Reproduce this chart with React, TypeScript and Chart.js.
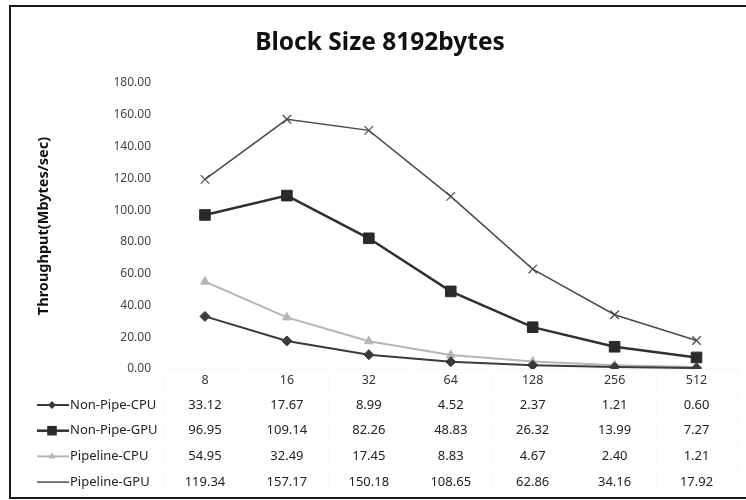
import React, { useEffect, useRef } from 'react';
import { Chart, registerables } from 'chart.js';

Chart.register(...registerables);

const categories = ['8', '16', '32', '64', '128', '256', '512'];
const seriesNames = ['Non-Pipe-CPU', 'Non-Pipe-GPU', 'Pipeline-CPU', 'Pipeline-GPU'];
const nonPipeCPU = [33.12, 17.67, 8.99, 4.52, 2.37, 1.21, 0.6];
const nonPipeGPU = [96.95, 109.14, 82.26, 48.83, 26.32, 13.99, 7.27];
const pipelineCPU = [54.95, 32.49, 17.45, 8.83, 4.67, 2.4, 1.21];
const pipelineGPU = [119.34, 157.17, 150.18, 108.65, 62.86, 34.16, 17.92];
const yMin = 0;
const yMax = 180;
const yStep = 20;
const chartTitle = 'Block Size 8192bytes';
const yTitle = 'Throughput(Mbytes/sec)';

const FONT = "'Noto Sans', 'DejaVu Sans', sans-serif";

const seriesStyles = [
  { color: '#3a3a3a', width: 2, point: 'rectRot', radius: 5, fill: '#3a3a3a' },
  { color: '#303030', width: 2.5, point: 'rect', radius: 7.5, fill: '#2a2a2a' },
  { color: '#b5b5b5', width: 2, point: 'triangle', radius: 5, fill: '#b5b5b5' },
  { color: '#4a4a4a', width: 1.5, point: 'crossRot', radius: 6, fill: '#4a4a4a' },
];

function drawMarker(ctx: CanvasRenderingContext2D, style: string, x: number, y: number, r: number, color: string) {
  ctx.save();
  ctx.fillStyle = color;
  ctx.strokeStyle = color;
  ctx.lineWidth = 1;
  ctx.beginPath();
  if (style === 'rect') {
    const s = r * Math.SQRT1_2;
    ctx.rect(x - s, y - s, 2 * s, 2 * s);
    ctx.fill();
  } else if (style === 'rectRot') {
    ctx.moveTo(x, y - r);
    ctx.lineTo(x + r, y);
    ctx.lineTo(x, y + r);
    ctx.lineTo(x - r, y);
    ctx.closePath();
    ctx.fill();
  } else if (style === 'triangle') {
    ctx.moveTo(x, y - r);
    ctx.lineTo(x + r * 0.87, y + r * 0.5);
    ctx.lineTo(x - r * 0.87, y + r * 0.5);
    ctx.closePath();
    ctx.fill();
  }
  ctx.restore();
}

const framePlugin = {
  id: 'frame',
  beforeDraw(chart: any) {
    const ctx = chart.ctx;
    ctx.save();
    ctx.fillStyle = '#ffffff';
    ctx.fillRect(0, 0, chart.width, chart.height);
    ctx.restore();
  },
  afterDraw(chart: any) {
    const ctx = chart.ctx;
    ctx.save();
    ctx.strokeStyle = '#1a1a1a';
    ctx.lineWidth = 2;
    ctx.strokeRect(10, 6, chart.width + 20, chart.height - 8);
    ctx.restore();
  },
};

const dataTablePlugin = {
  id: 'dataTable',
  afterDraw(chart: any) {
    const ctx = chart.ctx;
    const xs = chart.scales.x;
    const area = chart.chartArea;
    const rowH = 25.7;
    const firstRowY = area.bottom + 36;
    const step = xs.getPixelForValue(1) - xs.getPixelForValue(0);
    ctx.save();
    // barely visible table grid
    ctx.strokeStyle = '#fafafa';
    ctx.lineWidth = 1;
    for (let i = 0; i <= categories.length; i++) {
      const x = Math.round(xs.getPixelForValue(0) - step / 2 + i * step) + 0.5;
      ctx.beginPath();
      ctx.moveTo(x, area.bottom);
      ctx.lineTo(x, firstRowY + rowH * (seriesNames.length - 0.5));
      ctx.stroke();
    }
    for (let r = 0; r <= seriesNames.length; r++) {
      const y = Math.round(firstRowY - rowH / 2 + r * rowH) + 0.5;
      ctx.beginPath();
      ctx.moveTo(30, y);
      ctx.lineTo(area.right, y);
      ctx.stroke();
    }
    chart.data.datasets.forEach((ds: any, i: number) => {
      const y = firstRowY + i * rowH;
      const st = seriesStyles[i];
      // legend key
      ctx.strokeStyle = st.color;
      ctx.lineWidth = st.width;
      ctx.beginPath();
      ctx.moveTo(37, y);
      ctx.lineTo(69, y);
      ctx.stroke();
      if (st.point !== 'crossRot') {
        drawMarker(ctx, st.point, 52, y, st.point === 'rect' ? st.radius * 0.9 : st.radius * 0.8, st.fill);
      }
      ctx.fillStyle = '#222';
      ctx.font = `13px ${FONT}`;
      ctx.textBaseline = 'middle';
      ctx.textAlign = 'left';
      ctx.fillText(seriesNames[i], 70, y);
      ctx.textAlign = 'center';
      ds.data.forEach((v: number, j: number) => {
        ctx.fillText(v.toFixed(2), xs.getPixelForValue(j), y);
      });
    });
    ctx.restore();
  },
};

export default function App() {
  const ref = useRef<HTMLCanvasElement | null>(null);

  useEffect(() => {
    if (!ref.current) return;
    const seriesData = [nonPipeCPU, nonPipeGPU, pipelineCPU, pipelineGPU];
    const chart = new Chart(ref.current, {
      type: 'line',
      data: {
        labels: categories,
        datasets: seriesData.map((d, i) => ({
          label: seriesNames[i],
          data: d,
          borderColor: seriesStyles[i].color,
          borderWidth: seriesStyles[i].width,
          pointStyle: seriesStyles[i].point as any,
          pointRadius: seriesStyles[i].radius,
          pointBackgroundColor: seriesStyles[i].fill,
          pointBorderColor: seriesStyles[i].fill,
          pointBorderWidth: seriesStyles[i].point === 'crossRot' ? 1.2 : 1,
          tension: 0,
          fill: false,
        })),
      },
      options: {
        animation: false,
        responsive: false,
        maintainAspectRatio: false,
        layout: { padding: { left: 22, right: 8, top: 0, bottom: 0 } },
        plugins: {
          legend: { display: false },
          tooltip: { enabled: false },
          title: {
            display: true,
            text: chartTitle,
            color: '#111',
            font: { family: FONT, size: 24.5, weight: 'bold' },
            padding: { top: 28, bottom: 25.6 },
          },
        },
        scales: {
          x: {
            type: 'category',
            offset: true,
            grid: { display: false, drawTicks: false },
            border: { display: true, color: '#f7f7f7' },
            ticks: { padding: 4, color: '#333', font: { family: FONT, size: 12.5 } },
            afterFit: (s: any) => {
              s.height = 131;
            },
          },
          y: {
            min: yMin,
            max: yMax,
            grid: { color: '#fafafa', drawTicks: false },
            border: { display: false },
            ticks: {
              stepSize: yStep,
              padding: 13,
              color: '#444',
              font: { family: FONT, size: 12 },
              callback: (v: any) => Number(v).toFixed(2),
            },
            title: {
              display: true,
              text: yTitle,
              color: '#111',
              font: { family: FONT, size: 14.5, weight: 'bold' },
              padding: { top: 13, bottom: 0 },
            },
            afterFit: (s: any) => {
              s.width = 142;
            },
          },
        },
      } as any,
      plugins: [framePlugin, dataTablePlugin],
    });
    return () => chart.destroy();
  }, []);

  return (
    <div style={{ position: 'fixed', left: 0, top: 0, width: 746, height: 500, background: '#fff' }}>
      <canvas ref={ref} width={746} height={500} style={{ display: 'block' }} />
    </div>
  );
}
